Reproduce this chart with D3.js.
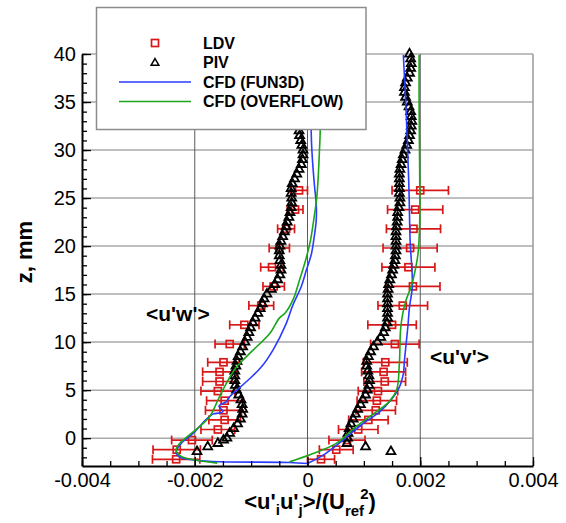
<!DOCTYPE html>
<html><head><meta charset="utf-8">
<script src="https://cdn.jsdelivr.net/npm/d3@7"></script>
<style>body{margin:0;background:#fff}svg{display:block;font-family:"Liberation Sans",Arial,Helvetica,sans-serif}</style>
</head><body><svg id="c" width="566" height="523"></svg>
<script>
// ---- data ----
const xTicks = [-0.004, -0.002, 0, 0.002, 0.004];
const xTickLabels = ["-0.004", "-0.002", "0", "0.002", "0.004"];
const yTicks = [0, 5, 10, 15, 20, 25, 30, 35, 40];
const yTickLabels = ["0", "5", "10", "15", "20", "25", "30", "35", "40"];
const legendLabels = ["LDV", "PIV", "CFD (FUN3D)", "CFD (OVERFLOW)"];

const ldvZ = [25.8, 23.8, 21.8, 19.8, 17.8, 15.8, 13.8, 11.8, 9.8, 7.9, 6.9, 5.9, 4.9, 3.9, 2.9, 1.9, 0.9, -0.2, -1.2, -2.2];
const ldvUW = [-0.00015, -0.00022, -0.00038, -0.0005, -0.00063, -0.0006, -0.00082, -0.00112, -0.00138, -0.00149, -0.00156, -0.00156, -0.00159, -0.00147, -0.00149, -0.00147, -0.00159, -0.00205, -0.00232, -0.00233];
const ldvUWerr = [0.00015, 0.00014, 0.00015, 0.00018, 0.0002, 0.00019, 0.00022, 0.00026, 0.00026, 0.00028, 0.0003, 0.0003, 0.0003, 0.00032, 0.00032, 0.00028, 0.0003, 0.00036, 0.00042, 0.00042];
const ldvUV = [0.002, 0.00191, 0.00188, 0.00182, 0.00179, 0.00187, 0.00169, 0.0015, 0.00155, 0.00138, 0.00135, 0.00137, 0.00125, 0.00123, 0.00121, 0.00108, 0.0009, 0.0007, 0.00051, 0.00024];
const ldvUVerr = [0.0005, 0.00049, 0.00048, 0.00048, 0.00047, 0.00048, 0.00044, 0.00043, 0.00043, 0.00039, 0.00039, 0.00037, 0.00035, 0.00035, 0.00035, 0.00035, 0.00035, 0.00032, 0.0003, 0.00024];

const pivUWz = [-1.4, -0.9, -0.55, -0.2, 0, 0.5, 1, 1.5, 2, 2.5, 3, 3.5, 4, 4.5, 5, 5.5, 6, 6.5, 7, 7.5, 8, 8.5, 9, 9.5, 10, 10.5, 11, 11.5, 12, 12.5, 13, 13.5, 14, 14.5, 15, 15.5, 16, 16.5, 17, 17.5, 18, 18.5, 19, 19.5, 20, 20.5, 21, 21.5, 22, 22.5, 23, 23.5, 24, 24.5, 25, 25.5, 26, 26.5, 27, 27.5, 28, 28.5, 29, 29.5, 30, 30.5, 31, 31.5, 32, 32.5, 33];
const pivUW = [-0.00196, -0.00177, -0.00159, -0.00149, -0.00143, -0.00138, -0.00131, -0.00124, -0.00119, -0.00116, -0.00115, -0.00116, -0.00118, -0.00122, -0.00126, -0.00128, -0.00129, -0.00129, -0.00129, -0.00127, -0.00125, -0.00123, -0.00119, -0.00115, -0.00111, -0.00107, -0.00104, -0.00101, -0.00097, -0.00093, -0.00088, -0.00084, -0.0008, -0.00077, -0.00072, -0.00064, -0.00058, -0.00053, -0.00049, -0.00047, -0.00047, -0.00049, -0.0005, -0.0005, -0.00049, -0.00047, -0.00044, -0.00041, -0.00038, -0.00036, -0.00033, -0.00031, -0.00029, -0.00028, -0.00028, -0.00029, -0.00029, -0.00027, -0.00023, -0.00019, -0.00015, -0.00011, -0.00009, -0.00008, -0.00008, -0.0001, -0.00012, -0.00014, -0.00015, -0.00014, -0.00012];

const pivUVz = [-1.4, -0.9, -0.55, 0, 0.5, 1, 1.5, 2, 2.5, 3, 3.5, 4, 4.5, 5, 5.5, 6, 6.5, 7, 7.5, 8, 8.5, 9, 9.5, 10, 10.5, 11, 11.5, 12, 12.5, 13, 13.5, 14, 14.5, 15, 15.5, 16, 16.5, 17, 17.5, 18, 18.5, 19, 19.5, 20, 20.5, 21, 21.5, 22, 22.5, 23, 23.5, 24, 24.5, 25, 25.5, 26, 26.5, 27, 27.5, 28, 28.5, 29, 29.5, 30, 30.5, 31, 31.5, 32, 32.5, 33, 33.5, 34, 34.5, 35, 35.5, 36, 36.5, 37, 37.5, 38, 38.5, 39, 39.5, 40];
const pivUV = [0.00148, 0.00103, 0.0007, 0.00071, 0.00072, 0.00074, 0.00077, 0.00081, 0.00085, 0.00089, 0.00094, 0.00098, 0.00103, 0.00106, 0.00109, 0.0011, 0.00109, 0.00107, 0.00105, 0.00105, 0.00108, 0.00112, 0.00117, 0.00124, 0.0013, 0.00135, 0.00138, 0.00141, 0.00142, 0.00142, 0.00142, 0.00142, 0.00142, 0.00142, 0.00143, 0.00144, 0.00146, 0.00149, 0.00151, 0.00153, 0.00155, 0.00156, 0.00157, 0.00157, 0.00157, 0.00157, 0.00157, 0.00158, 0.00159, 0.0016, 0.0016, 0.00162, 0.00164, 0.00164, 0.00163, 0.00163, 0.00163, 0.00163, 0.00163, 0.00164, 0.00166, 0.00168, 0.0017, 0.00173, 0.00176, 0.00179, 0.00181, 0.00183, 0.00184, 0.00185, 0.00184, 0.00183, 0.0018, 0.00177, 0.00174, 0.00172, 0.00172, 0.00174, 0.00177, 0.00181, 0.00183, 0.00184, 0.00183, 0.00181];

const fun3dUWz = [-2.64, -2.53, -2.46, -2.3, -1.95, -1.43, -0.55, 0.49, 1.94, 2.5, 2.74, 3.33, 3.8, 4.3, 4.66, 6.0, 7.4, 9.2, 11.9, 13.85, 15.8, 17.5, 19.2, 21, 22.7, 24.4, 26.2, 29.7, 31.9, 40];
const fun3dUW = [0, -0.00032, -0.00156, -0.00197, -0.00227, -0.00233, -0.00224, -0.00203, -0.0018, -0.00168, -0.0015, -0.00157, -0.00144, -0.00138, -0.00132, -0.00106, -0.00082, -0.00061, -0.00038, -0.00026, -0.00011, -0.00002, 0.00007, 0.00012, 0.000155, 0.000155, 0.000125, 0.00008, 0.000065, 0.00005];
const overflowUWz = [-2.6, -2.3, -1.9, -1.25, -0.55, 0.5, 2.2, 3.96, 5.7, 7.4, 8.8, 10.9, 12.5, 13.0, 14.5, 16.5, 18.5, 20.6, 22.7, 25.1, 27.2, 29.7, 31.9, 40];
const overflowUW = [-0.0016, -0.00197, -0.00224, -0.00233, -0.00227, -0.00206, -0.00174, -0.00159, -0.00144, -0.00126, -0.00103, -0.00067, -0.0005, -0.0004, -0.00025, -0.00014, -0.000035, 0.000053, 0.00011, 0.000165, 0.00019, 0.00021, 0.000225, 0.00023];
const fun3dUVz = [-2.64, -1.8, -0.2, 1.5, 2.74, 3.96, 5.3, 6.7, 8.1, 9.86, 11.6, 13.7, 15.8, 20.6, 25.8, 31, 35.2, 39.9];
const fun3dUV = [0, 0.00027, 0.00063, 0.00098, 0.00128, 0.00148, 0.00163, 0.0017, 0.00172, 0.00175, 0.00178, 0.00181, 0.00186, 0.00182, 0.0018, 0.00177, 0.00174, 0.0017];
const overflowUVz = [-2.47, -1.6, -0.55, 1.2, 2.74, 3.8, 5.0, 7.8, 11.25, 13.0, 14.4, 15.8, 17.2, 19.2, 22.4, 27.6, 34.5, 39.9];
const overflowUV = [-0.00032, 0.0001, 0.00051, 0.00086, 0.00122, 0.00145, 0.00158, 0.00163, 0.00165, 0.00169, 0.00175, 0.00184, 0.0019, 0.00196, 0.00199, 0.00199, 0.00198, 0.00198];

// ---- chart ----
const svg = d3.select("#c");
const x = d3.scaleLinear().domain([-0.004, 0.004]).range([82, 533]);
const y = d3.scaleLinear().domain([-2.9, 40]).range([466, 54]);
const RED = "#d81818", BLUE = "#2a3cff", GREEN = "#1aa51a";

// grid
svg.append("g").selectAll("line").data(yTicks).join("line")
  .attr("x1", x(-0.004)).attr("x2", x(0.004)).attr("y1", d => y(d)).attr("y2", d => y(d))
  .attr("stroke", "#a9a9a9").attr("stroke-width", 1.5);
svg.append("g").selectAll("line").data([-0.002, 0, 0.002]).join("line")
  .attr("x1", d => x(d)).attr("x2", d => x(d)).attr("y1", y(-2.9)).attr("y2", y(40))
  .attr("stroke", "#5a5a5a").attr("stroke-width", 1);
svg.append("line").attr("x1", x(0.004)).attr("x2", x(0.004)).attr("y1", y(-2.9)).attr("y2", y(40))
  .attr("stroke", "#999").attr("stroke-width", 1.5);

const plot = svg.append("g");
// LDV error bars & squares
function ldv(zs, vs, es) {
  const g = plot.append("g").attr("stroke", RED).attr("stroke-width", 1.7).attr("fill", "none");
  zs.forEach((z, i) => {
    const yy = y(z), x0 = x(vs[i] - es[i]), x1 = x(vs[i] + es[i]);
    g.append("line").attr("x1", x0).attr("x2", x1).attr("y1", yy).attr("y2", yy);
    g.append("line").attr("x1", x0).attr("x2", x0).attr("y1", yy - 4.5).attr("y2", yy + 4.5);
    g.append("line").attr("x1", x1).attr("x2", x1).attr("y1", yy - 4.5).attr("y2", yy + 4.5);
    g.append("rect").attr("x", x(vs[i]) - 3.5).attr("y", yy - 3.5).attr("width", 7).attr("height", 7).attr("fill", "none");
  });
}
ldv(ldvZ, ldvUW, ldvUWerr);
ldv(ldvZ, ldvUV, ldvUVerr);

// PIV triangles
const tri = d3.symbol().type(d3.symbolTriangle).size(34);
function piv(zs, vs) {
  plot.append("g").selectAll("path").data(zs).join("path")
    .attr("d", tri).attr("transform", (z, i) => `translate(${x(vs[i])},${y(z)})`)
    .attr("fill", "none").attr("stroke", "#000").attr("stroke-width", 1.8);
}
piv(pivUWz, pivUW);
piv(pivUVz, pivUV);

// CFD lines
const line = d3.line().x(d => x(d[1])).y(d => y(d[0])).curve(d3.curveCatmullRom.alpha(0.5));
function cfd(zs, vs, color) {
  plot.append("path").datum(zs.map((z, i) => [z, vs[i]])).attr("d", line)
    .attr("fill", "none").attr("stroke", color).attr("stroke-width", 1.6);
}
cfd(fun3dUWz, fun3dUW, BLUE);
cfd(fun3dUVz, fun3dUV, BLUE);
cfd(overflowUWz, overflowUW, GREEN);
cfd(overflowUVz, overflowUV, GREEN);

// axes
const fmt = (d) => xTickLabels[xTicks.indexOf(d)];
const xAxis = svg.append("g").attr("transform", `translate(0,${y(-2.9)})`)
  .call(d3.axisBottom(x).tickValues(xTicks).tickFormat(fmt).tickSize(-9).tickSizeOuter(0).tickPadding(7));
svg.append("g").attr("transform", `translate(0,${y(-2.9)})`)
  .call(d3.axisBottom(x).tickValues(d3.range(-0.004, 0.00401, 0.0005)).tickFormat("").tickSize(-5).tickSizeOuter(0))
  .call(g => g.select(".domain").remove());
const yAxis = svg.append("g").attr("transform", `translate(${x(-0.004)},0)`)
  .call(d3.axisLeft(y).tickValues(yTicks).tickFormat((d, i) => yTickLabels[i]).tickSize(-9).tickSizeOuter(0).tickPadding(6));
svg.append("g").attr("transform", `translate(${x(-0.004)},0)`)
  .call(d3.axisLeft(y).tickValues(d3.range(-2, 40.1, 1)).tickFormat("").tickSize(-5).tickSizeOuter(0))
  .call(g => g.select(".domain").remove());
[xAxis, yAxis].forEach(a => {
  a.select(".domain").attr("stroke", "#000").attr("stroke-width", 2);
  a.selectAll("text").attr("font-size", 20).attr("font-family", "Liberation Sans, Arial, sans-serif").attr("fill", "#000");
});
svg.selectAll(".tick line").attr("stroke", "#000").attr("stroke-width", 1.3);

// axis titles
svg.append("text").attr("transform", "translate(32,252) rotate(-90)").attr("text-anchor", "middle")
  .attr("font-weight", "bold").attr("font-size", 22).text("z, mm");
const xt = svg.append("text").attr("x", 310).attr("y", 509).attr("text-anchor", "middle")
  .attr("font-weight", "bold").attr("font-size", 22);
xt.append("tspan").text("<u'");
xt.append("tspan").attr("font-size", 15).attr("dy", 6).text("i");
xt.append("tspan").attr("dy", -6).text("u'");
xt.append("tspan").attr("font-size", 15).attr("dy", 6).text("j");
xt.append("tspan").attr("dy", -6).text(">/(U");
xt.append("tspan").attr("font-size", 15).attr("dy", 7).text("ref");
xt.append("tspan").attr("font-size", 15).attr("dy", -17).attr("dx", -4).text("2");
xt.append("tspan").attr("dy", 10).text(")");

// in-plot labels
svg.append("text").attr("x", 146).attr("y", 321).attr("font-weight", "bold").attr("font-size", 21).text("<u'w'>");
svg.append("text").attr("x", 430).attr("y", 364).attr("font-weight", "bold").attr("font-size", 21).text("<u'v'>");

// legend
const lg = svg.append("g");
lg.append("rect").attr("x", 96.5).attr("y", 7.5).attr("width", 269.5).attr("height", 122)
  .attr("fill", "#fff").attr("stroke", "#8c8c8c").attr("stroke-width", 1.5);
const rows = [49, 68, 88, 107];
legendLabels.forEach((t, i) => {
  lg.append("text").attr("x", 203).attr("y", rows[i]).attr("font-weight", "bold").attr("font-size", 16).text(t);
});
lg.append("rect").attr("x", 151.5).attr("y", 39.5).attr("width", 7).attr("height", 7)
  .attr("fill", "none").attr("stroke", RED).attr("stroke-width", 1.7);
lg.append("path").attr("d", d3.symbol().type(d3.symbolTriangle).size(26)).attr("transform", "translate(155,63)")
  .attr("fill", "none").attr("stroke", "#000").attr("stroke-width", 1.5);
lg.append("line").attr("x1", 119).attr("x2", 191).attr("y1", 82).attr("y2", 82).attr("stroke", BLUE).attr("stroke-width", 1.6);
lg.append("line").attr("x1", 119).attr("x2", 191).attr("y1", 101.5).attr("y2", 101.5).attr("stroke", GREEN).attr("stroke-width", 1.6);
</script></body></html>
